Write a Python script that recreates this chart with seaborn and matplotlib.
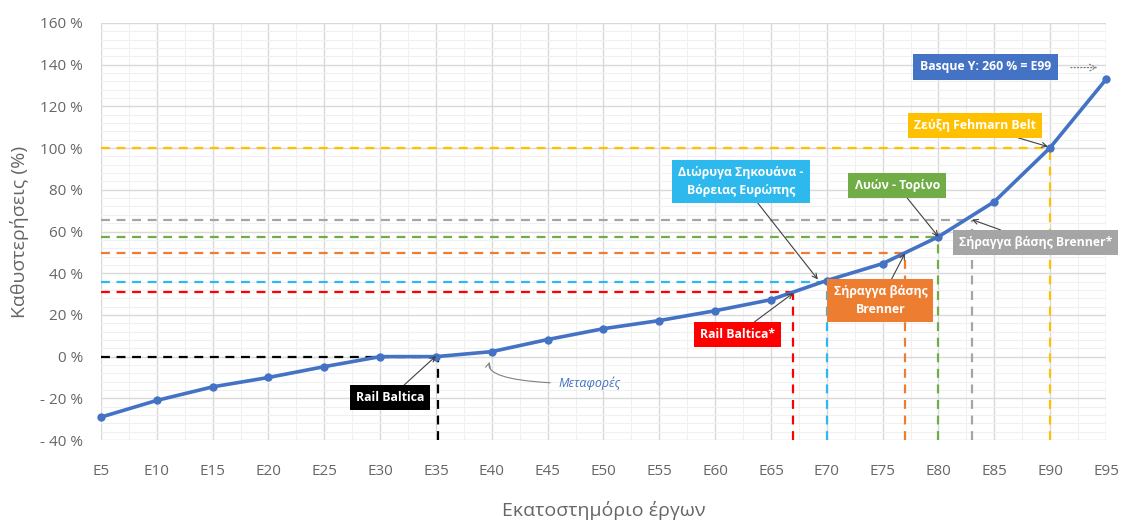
import seaborn as sns
import pandas as pd
import matplotlib.pyplot as plt
from matplotlib.ticker import MultipleLocator

# data
percentile = [5, 10, 15, 20, 25, 30, 35, 40, 45, 50, 55, 60, 65, 70, 75, 80, 85, 90, 95]
delay = [-29, -21, -14.5, -10, -4.8, 0, 0, 2.4, 8.2, 13.4, 17.3, 22, 27.3, 36.5, 44.6, 57.5, 74.3, 100.2, 132.9]
x_tick_labels = ["E%d" % p for p in percentile]
y_ticks = [-40, -20, 0, 20, 40, 60, 80, 100, 120, 140, 160]
y_tick_labels = ["- 40 %", "- 20 %", "0 %", "20 %", "40 %", "60 %", "80 %", "100 %", "120 %", "140 %", "160 %"]

proj_names = ["Rail Baltica", "Rail Baltica*", "Διώρυγα Σηκουάνα -\nΒόρειας Ευρώπης",
              "Σήραγγα βάσης\nBrenner", "Λυών - Τορίνο", "Σήραγγα βάσης Brenner*", "Ζεύξη Fehmarn Belt"]
proj_x = [35.2, 67, 70, 77, 80, 83, 90]
proj_y = [0, 31, 36, 49.5, 57.5, 65.5, 100]
proj_colors = ["#000000", "#FF0000", "#2DB8EE", "#ED7D31", "#70AD47", "#A5A5A5", "#FFC000"]
# label box centres (data coords) and arrow targets
label_xy = [(30.9, -19.7), (62, 10.6), (62.3, 84), (74.8, 26.9), (76.3, 82), (88.7, 54.7), (83.3, 111)]
arrow_xy = [(35, 0.3), (67, 30.5), (69.2, 37), (77, 49.5), (80, 57.5), (83, 65.7), (89.8, 100.7)]

basque_text = "Basque Y: 260 % = E99"

df = pd.DataFrame({"percentile": percentile, "delay": delay})

sns.set_theme(style="white")
plt.rcParams["font.family"] = ["Open Sans", "DejaVu Sans"]

fig = plt.figure(figsize=(11.22, 5.22), dpi=100)
ax = fig.add_axes([0.09, 0.157, 0.8957, 0.799])

# reference lines
for rx, ry, c in zip(proj_x, proj_y, proj_colors):
    ax.hlines(ry, 5, rx, colors=c, linestyles=(0, (4, 3)), linewidth=1.6, zorder=2)
    ax.vlines(rx, -40, ry, colors=c, linestyles=(0, (4, 3)), linewidth=1.6, zorder=2)

sns.lineplot(data=df, x="percentile", y="delay", ax=ax, color="#4472C4", linewidth=2.6,
             marker="o", markersize=6, markeredgewidth=0, zorder=4, clip_on=False)

ax.set_xlim(5, 95)
ax.set_ylim(-40, 160)
ax.set_xticks(percentile)
ax.set_xticklabels(x_tick_labels)
ax.set_yticks(y_ticks)
ax.set_yticklabels(y_tick_labels)
ax.xaxis.set_minor_locator(MultipleLocator(2.5))
ax.yaxis.set_minor_locator(MultipleLocator(4))
ax.grid(which="major", color="#D9D9D9", linewidth=1.0, zorder=0)
ax.grid(which="minor", color="#F0F0F0", linewidth=0.8, zorder=0)
ax.set_axisbelow(True)
for s in ax.spines.values():
    s.set_visible(False)
ax.tick_params(axis="both", which="both", length=0, labelsize=11, labelcolor="#666666")
ax.tick_params(axis="x", pad=17)
ax.tick_params(axis="y", pad=13)

ax.set_xlabel("Εκατοστημόριο έργων", fontsize=14, color="#666666", labelpad=16)
ax.set_ylabel("Καθυστερήσεις (%)", fontsize=14, color="#666666", labelpad=8)

arrow_props = dict(arrowstyle="->", color="#404040", lw=0.8, shrinkA=0, shrinkB=0)
for name, (lx, ly), (axx, ayy), c in zip(proj_names, label_xy, arrow_xy, proj_colors):
    ax.annotate(name, xy=(axx, ayy), xytext=(lx, ly), ha="center", va="center",
                fontsize=8.8, fontweight="bold", color="white", linespacing=1.45,
                bbox=dict(boxstyle="square,pad=0.5", fc=c, ec="none"),
                arrowprops=arrow_props, zorder=6)

ax.annotate("Μεταφορές", xy=(39.8, -2.5), xytext=(48.8, -13), ha="center", va="center",
            fontsize=9, fontstyle="italic", color="#4472C4",
            arrowprops=dict(arrowstyle="->", color="#808080", lw=0.8,
                            connectionstyle="angle3,angleA=0,angleB=75", shrinkA=4, shrinkB=0),
            zorder=6)

ax.text(84.2, 139, basque_text, ha="center", va="center", fontsize=8.8, fontweight="bold",
        color="white", bbox=dict(boxstyle="square,pad=0.55", fc="#4472C4", ec="none"), zorder=6)
ax.annotate("", xy=(94.5, 138.6), xytext=(91.6, 138.6),
            arrowprops=dict(arrowstyle="->", color="#808080", lw=0.9, linestyle=":"), zorder=6)

fig.savefig("out.png", dpi=100)
